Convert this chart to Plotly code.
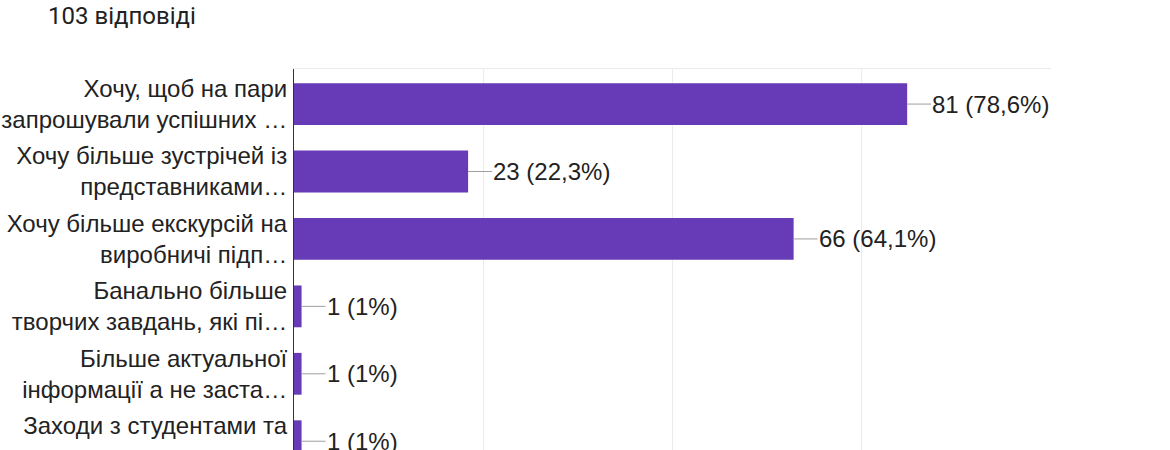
import plotly.graph_objects as go

# Data
categories = [
    "Хочу, щоб на пари<br>запрошували успішних …",
    "Хочу більше зустрічей із<br>представниками…",
    "Хочу більше екскурсій на<br>виробничі підп…",
    "Банально більше<br>творчих завдань, які пі…",
    "Більше актуальної<br>інформації а не заста…",
    "Заходи з студентами та<br>…",
]
counts = [81, 23, 66, 1, 1, 1]
pct_labels = ["78,6%", "22,3%", "64,1%", "1%", "1%", "1%"]
title_text = "103 відповіді"

positions = list(range(len(categories)))

W, H = 1170, 450

fig = go.Figure()
fig.add_trace(go.Bar(
    x=counts,
    y=positions,
    orientation="h",
    width=0.62,
    marker=dict(color="#673ab7", line=dict(width=0)),
    hoverinfo="skip",
))

for i, (c, p) in enumerate(zip(counts, pct_labels)):
    fig.add_annotation(
        x=c, y=i, xref="x", yref="y",
        text=f"{c} ({p})",
        showarrow=True, arrowhead=0, arrowwidth=1, arrowcolor="#9e9e9e",
        ax=24, ay=0, axref="pixel", ayref="pixel",
        xanchor="left", yanchor="middle",
        borderpad=0, standoff=0,
        font=dict(family="Liberation Sans, Arial", size=24, color="#222222"),
    )

fig.update_layout(
    width=W, height=H,
    margin=dict(l=294, r=W - 1051, t=69, b=0, autoexpand=False),
    paper_bgcolor="white", plot_bgcolor="white",
    showlegend=False,
    title=dict(
        text=title_text, x=48 / W, xanchor="left", xref="container",
        y=1 - 16 / H, yanchor="middle", yref="container",
        font=dict(family="Roboto", size=24, color="#212121"),
        automargin=False,
    ),
    font=dict(family="Liberation Sans, Arial", size=24, color="#222222"),
)

fig.update_xaxes(
    range=[0, 100], dtick=25, tick0=0,
    showgrid=True, gridcolor="#ebebeb", gridwidth=1,
    zeroline=False, showticklabels=False, ticks="",
    side="top", showline=True, linecolor="#ebebeb", linewidth=1,
    fixedrange=True, automargin=False,
)
fig.update_yaxes(
    range=[5.13, -0.52],
    tickvals=positions, ticktext=categories,
    showgrid=False, zeroline=False, ticks="",
    showline=True, linecolor="#333333", linewidth=1,
    ticklabelstandoff=1, ticklabeloverflow="allow",
    tickfont=dict(family="Liberation Sans, Arial", size=24, color="#222222"),
    fixedrange=True, automargin=False,
)

fig.write_html(
    "out.html",
    config={"displayModeBar": False, "staticPlot": True},
    post_script="document.body.style.margin='0';",
)
